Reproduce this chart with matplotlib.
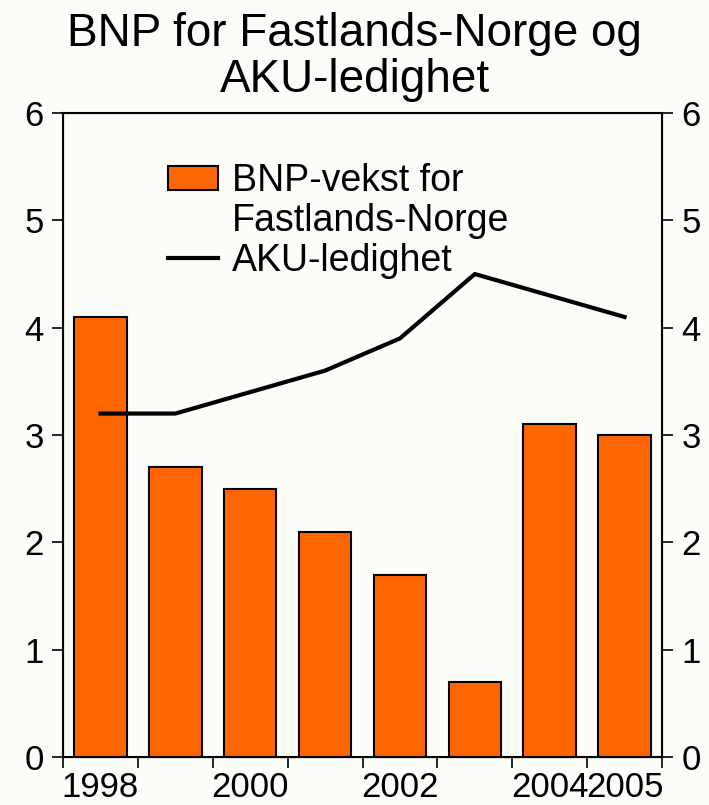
import matplotlib
matplotlib.use('Agg')
import matplotlib.pyplot as plt
from matplotlib.patches import Rectangle
import numpy as np

years=['1998','1999','2000','2001','2002','2003','2004','2005']
bnp=[4.1,2.7,2.5,2.1,1.7,0.7,3.1,3.0]
aku=[3.2,3.2,3.4,3.6,3.9,4.5,4.3,4.1]
xlabels=['1998','','2000','','2002','','2004','2005']

plt.rcParams['font.family']=['Liberation Sans','DejaVu Sans']
bg='#FCFDF8'

fig=plt.figure(figsize=(7.09,8.05),dpi=100,facecolor=bg)
ax=fig.add_axes([0.0889,0.0596,0.8448,0.80])
ax.set_facecolor(bg)
x=np.arange(len(years))
b=ax.bar(x,bnp,width=0.7,color='#FF6600',edgecolor='black',linewidth=1.5)
l,=ax.plot(x,aku,color='black',lw=3)
ax.set_xlim(-0.5,7.5)
ax.set_ylim(0,6)
ax.set_yticks(range(7))
ax.tick_params(axis='y',labelsize=25,length=8,width=1.2,direction='out',pad=6)
ax.set_xticks(np.arange(-0.5,8,1))
ax.set_xticklabels([])
ax.set_xticks(x,minor=True)
ax.set_xticklabels(xlabels,minor=True)
ax.tick_params(axis='x',which='major',length=8,width=1.2,direction='out')
ax.tick_params(axis='x',which='minor',length=0,labelsize=25,pad=10)
for s in ax.spines.values():
    s.set_linewidth(1.5)

ax2=ax.twinx()
ax2.set_ylim(0,6)
ax2.set_yticks(range(7))
ax2.tick_params(axis='y',labelsize=25,length=8,width=1.2,direction='out',pad=6)

blank=Rectangle((0,0),1,1,fill=False,edgecolor='none',visible=False)
leg=ax.legend([b,blank,l],['BNP-vekst for','Fastlands-Norge','AKU-ledighet'],loc='upper left',
              bbox_to_anchor=(0.15,0.945),frameon=False,fontsize=27,
              handlelength=1.35,handleheight=0.6,handletextpad=0.35,labelspacing=0.1,borderaxespad=0)

fig.text(0.5,0.985,'BNP for Fastlands-Norge og\nAKU-ledighet',ha='center',va='top',fontsize=33,linespacing=1.05)

plt.savefig('out.png',dpi=100,facecolor=bg)
